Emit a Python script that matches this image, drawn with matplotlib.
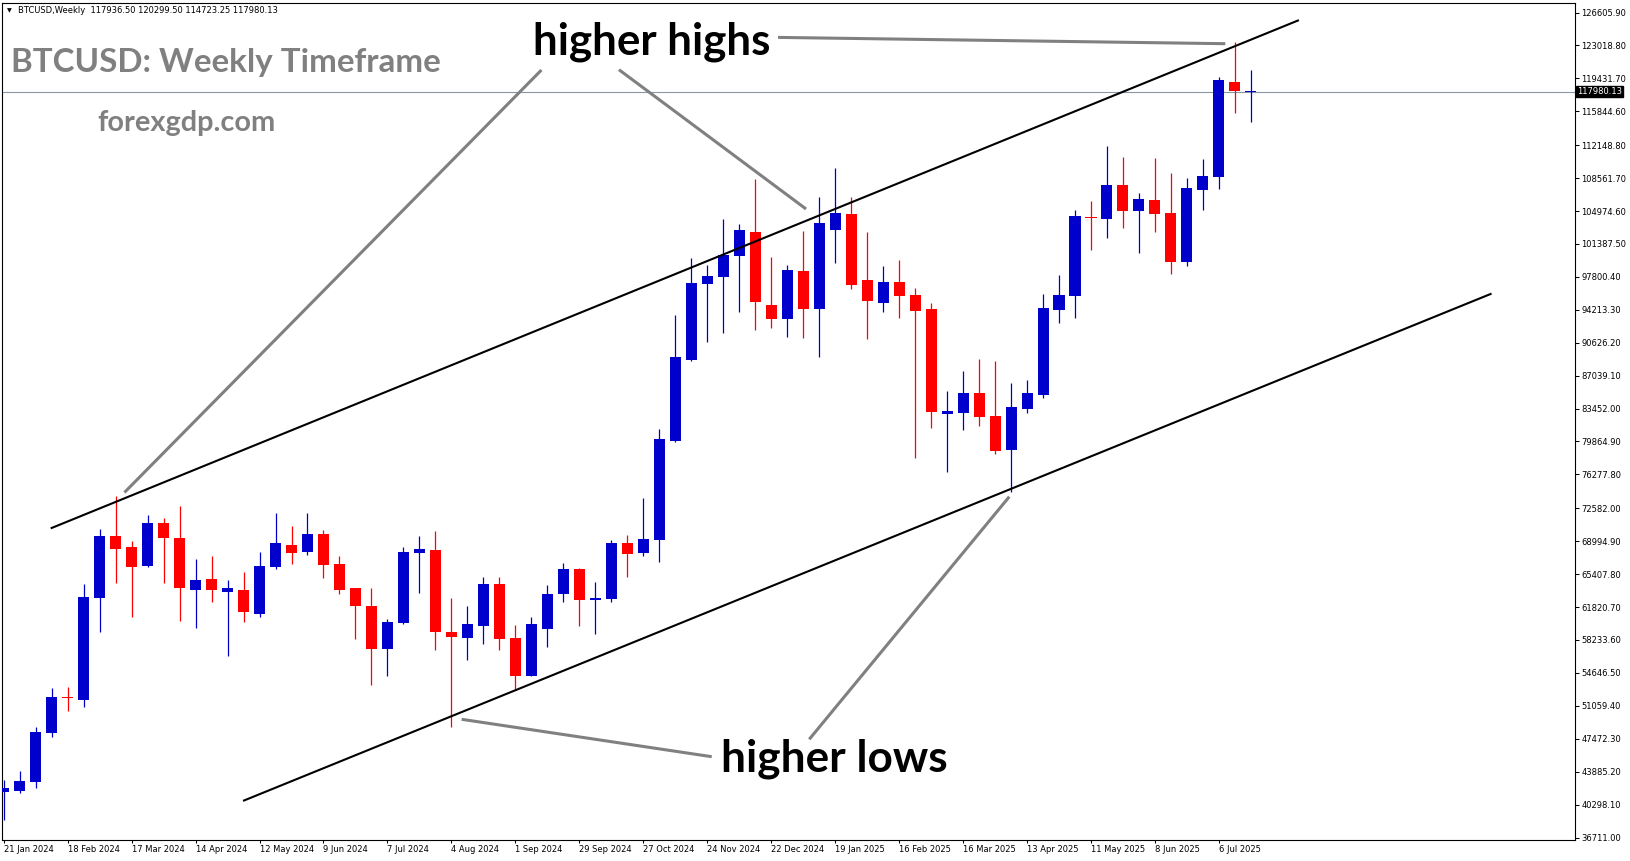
"""BTCUSD weekly (MT4 screenshot) - rising channel, higher highs / higher lows."""
import matplotlib
matplotlib.use("Agg")
import matplotlib.pyplot as plt
import numpy as np

plt.rcParams["font.family"] = ["DejaVu Sans"]

# weekly candles, 21 Jan 2024 .. 20 Jul 2025
OPEN = [41710, 41820, 42800, 48140, 52020, 51730, 62850, 69570, 68370, 66300,
        70980, 69350, 63720, 64840, 63500, 63680, 61100, 66220, 68580, 67860,
        69780, 66510, 63900, 61940, 57290, 60120, 67750, 68040, 59110, 58490,
        59800, 64300, 58410, 54350, 59470, 63280, 65970, 62630, 62740, 68800,
        67750, 69130, 79950, 88740, 97060, 97820, 100110, 102690, 94740, 93250,
        98440, 94340, 102910, 104650, 97460, 94990, 97240, 95820, 94300, 82890,
        83000, 85150, 82640, 78970, 83440, 84970, 94230, 95750, 104360, 104140,
        107810, 105010, 106180, 104760, 99460, 107300, 108720, 119030, 117936.50]
HIGH = [42980, 43960, 48790, 53000, 53110, 64340, 70330, 73920, 69020, 71850,
        71530, 72830, 67060, 67390, 64770, 65640, 67820, 72110, 70660, 72110,
        70260, 67390, 63950, 63900, 60520, 68370, 69570, 70110, 62770, 61940,
        65100, 65100, 59850, 60740, 64230, 66620, 66100, 64550, 69130, 69670,
        73690, 81210, 93650, 99820, 99090, 104110, 103560, 108460, 99970, 99090,
        102800, 106500, 109660, 106500, 102690, 98980, 99640, 96590, 94950, 85360,
        87540, 88850, 88630, 86240, 86560, 95930, 98000, 105090, 106070, 112060,
        110860, 106940, 110750, 109120, 108570, 110640, 119580, 123390, 120299.50]
LOW = [38620, 41600, 42140, 47700, 50530, 50970, 59140, 64480, 60780, 66190,
       64480, 60340, 59580, 62410, 56530, 60230, 60780, 65970, 66510, 67530,
       65030, 63280, 58340, 53370, 54350, 60000, 63390, 57180, 48790, 56090,
       57830, 57180, 52820, 54300, 57510, 62410, 59800, 58920, 62410, 65130,
       67420, 66730, 79840, 88670, 90700, 91720, 94010, 92010, 92270, 91280,
       91180, 89110, 99310, 96510, 91070, 94010, 93350, 78100, 81370, 76580,
       81150, 81590, 78540, 74400, 83000, 84640, 92810, 93350, 100760, 102070,
       103160, 100440, 102730, 98150, 99020, 105120, 107410, 115690, 114723.25]
CLOSE = [42070, 42870, 48210, 52020, 51880, 62920, 69570, 68190, 66220, 70980,
         69380, 63940, 64770, 63720, 63900, 61320, 66300, 68800, 67750, 69780,
         66410, 63720, 61970, 57290, 60190, 67820, 68150, 59140, 58600, 59980,
         64300, 58380, 54350, 59980, 63250, 65970, 62630, 62800, 68800, 67640,
         69240, 80120, 89030, 97100, 97890, 100180, 102910, 95100, 93250, 98550,
         94340, 103670, 104760, 96950, 95210, 97240, 95750, 94120, 83110, 83190,
         85150, 82570, 78860, 83620, 85150, 94410, 95820, 104430, 104210, 107810,
         105010, 106280, 104690, 99460, 107480, 108790, 119250, 118050, 117980.13]

DATE_LABELS = ["21 Jan 2024", "18 Feb 2024", "17 Mar 2024", "14 Apr 2024", "12 May 2024",
               "9 Jun 2024", "7 Jul 2024", "4 Aug 2024", "1 Sep 2024", "29 Sep 2024",
               "27 Oct 2024", "24 Nov 2024", "22 Dec 2024", "19 Jan 2025", "16 Feb 2025",
               "16 Mar 2025", "13 Apr 2025", "11 May 2025", "8 Jun 2025", "6 Jul 2025"]
PRICE_TICKS = [126605.90, 123018.80, 119431.70, 115844.60, 112148.80, 108561.70,
               104974.60, 101387.50, 97800.40, 94213.30, 90626.20, 87039.10, 83452.00,
               79864.90, 76277.80, 72582.00, 68994.90, 65407.80, 61820.70, 58233.60,
               54646.50, 51059.40, 47472.30, 43885.20, 40298.10, 36711.00]
LAST_PRICE = 117980.13
HEADER = "BTCUSD,Weekly  117936.50 120299.50 114723.25 117980.13"

# drawings, in (candle index, price)
CHANNEL_UP = [(3.0, 70440), (80.94, 125730)]
CHANNEL_LOW = [(15.03, 40745), (92.99, 95934)]
HH_LINES = [[(33.63, 120340), (7.55, 74305)],
            [(38.48, 120373), (50.18, 105195)],
            [(48.43, 123893), (76.40, 123206)]]
HL_LINES = [[(28.64, 49593), (44.28, 45518)],
            [(50.38, 47414), (62.89, 73848)]]

BLUE = "#0000CC"
RED = "#FF0000"
GREY = "#808080"

fig = plt.figure(figsize=(16.31, 8.61), dpi=100)
ax = fig.add_axes([2 / 1631, 21 / 861, 1573 / 1631, 837.5 / 861])
ax.set_xlim(-0.106, 98.27)
ax.set_ylim(36441.5, 127695.5)

x = np.arange(len(OPEN))
o, h, l, c = (np.array(v, dtype=float) for v in (OPEN, HIGH, LOW, CLOSE))
col = np.where(c >= o, BLUE, RED)
ax.vlines(x, l, h, colors=col, lw=0.9, zorder=3)
hgt = np.abs(c - o)
bot = np.minimum(o, c)
doji = hgt < 110
bot[doji] = (o[doji] + c[doji]) / 2 - 55
hgt[doji] = 110
ax.bar(x, hgt, 0.69, bottom=bot, color=col, lw=0, zorder=4)

ax.axhline(LAST_PRICE, color="#8a96a4", lw=0.8, zorder=2)
for seg in (CHANNEL_UP, CHANNEL_LOW):
    ax.plot(*zip(*seg), color="black", lw=1.5, zorder=5)
for seg in HH_LINES + HL_LINES:
    ax.plot(*zip(*seg), color=GREY, lw=2.2, zorder=5, solid_capstyle="butt")

r = fig.canvas.get_renderer()


def fit(t, width_px):
    t.set_fontsize(t.get_fontsize() * width_px / t.get_window_extent(r).width)


fit(ax.text(33.08, 122084, "higher highs", fontsize=30, fontweight="bold",
            family=["Lato", "DejaVu Sans"], va="baseline", zorder=6), 237)
fit(ax.text(44.85, 43905, "higher lows", fontsize=30, fontweight="bold",
            family=["Lato", "DejaVu Sans"], va="baseline", zorder=6), 226)
fit(ax.text(0.0055, 0.9167, "BTCUSD: Weekly Timeframe", transform=ax.transAxes, fontsize=24,
            fontweight="bold", color=GREY, family=["Lato", "DejaVu Sans"], va="baseline"), 431)
fit(ax.text(0.0608, 0.8469, "forexgdp.com", transform=ax.transAxes, fontsize=20,
            fontweight="bold", color=GREY, family=["Lato", "DejaVu Sans"], va="baseline"), 178)

ax.text(0.0046, 0.9902, "▼", transform=ax.transAxes, fontsize=4.5, va="center", ha="center")
ax.text(0.0104, 0.9902, HEADER, transform=ax.transAxes, fontsize=6, va="center")

ax.yaxis.tick_right()
ax.set_yticks(PRICE_TICKS)
ax.set_yticklabels([f"{v:.2f}" for v in PRICE_TICKS])
ax.set_xticks(np.arange(len(DATE_LABELS)) * 4)
ax.set_xticklabels(DATE_LABELS, ha="left")
ax.tick_params(axis="y", length=3, width=0.75, pad=1.5, labelsize=6)
ax.tick_params(axis="x", length=2.5, width=0.75, pad=0.8, labelsize=6)
for lab in ax.get_xticklabels():
    lab.set_x(lab.get_position()[0])
ax.text(1.0012, LAST_PRICE, f"{LAST_PRICE:.2f}", transform=ax.get_yaxis_transform(),
        va="center", ha="left", fontsize=6, color="white",
        bbox=dict(boxstyle="square,pad=0.15", fc="black", ec="black"))

for s in ax.spines.values():
    s.set_linewidth(0.8)
    s.set_color("black")

fig.savefig("out.png", dpi=100, facecolor="white")
